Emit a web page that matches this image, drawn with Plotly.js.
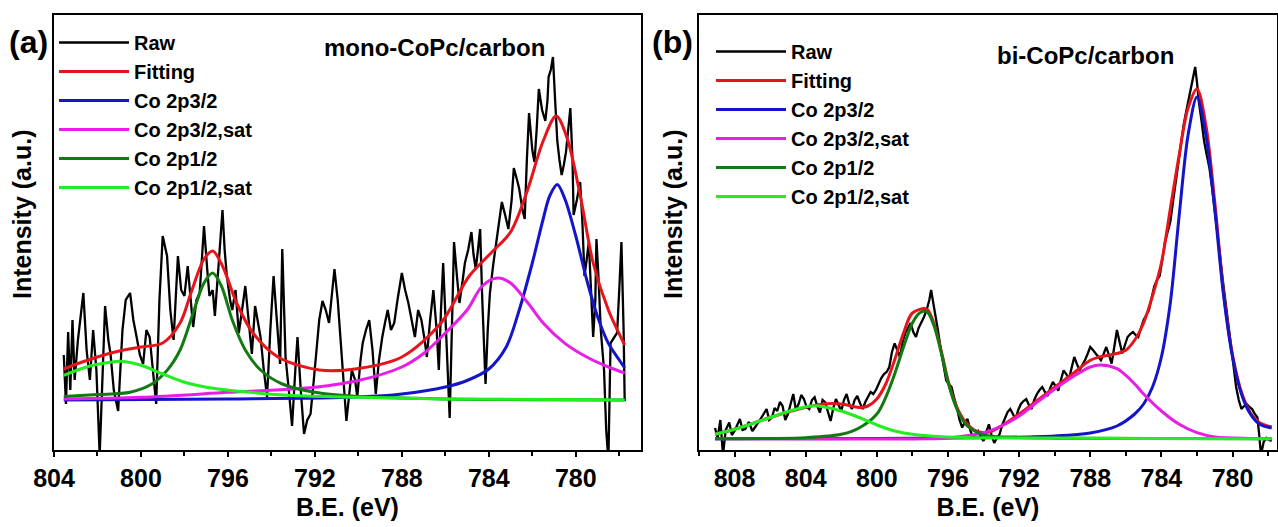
<!DOCTYPE html>
<html>
<head>
<meta charset="utf-8">
<script src="https://cdn.plot.ly/plotly-3.0.1.min.js"></script>
<style>
html,body{margin:0;padding:0;background:#fff;}
#chart{width:1278px;height:527px;}
</style>
</head>
<body>
<div id="chart"></div>
<script>
// ---------- Panel (a): mono-CoPc/carbon ----------
const aRawE = [803.55,803.45,803.35,803.25,803.15,803.05,802.9,802.75,802.65,802.5,802.35,802.2,802.05,801.9,801.75,801.65,801.5,801.4,801.25,801.05,800.85,800.7,800.5,800.35,800.2,800.05,799.9,799.75,799.6,799.45,799.3,799.15,799.0,798.8,798.65,798.5,798.3,798.15,798.0,797.85,797.7,797.6,797.45,797.3,797.2,797.1,796.95,796.85,796.7,796.6,796.4,796.25,796.15,796.05,795.9,795.8,795.65,795.5,795.35,795.2,795.05,794.9,794.75,794.6,794.5,794.35,794.2,794.05,793.9,793.75,793.6,793.5,793.35,793.2,793.05,792.9,792.8,792.65,792.5,792.35,792.2,792.05,791.9,791.8,791.65,791.5,791.35,791.2,791.1,790.95,790.8,790.65,790.55,790.4,790.3,790.15,790.05,789.9,789.8,789.65,789.5,789.35,789.2,789.05,788.9,788.75,788.65,788.5,788.35,788.2,788.0,787.85,787.7,787.55,787.4,787.25,787.1,786.95,786.85,786.7,786.55,786.4,786.3,786.2,786.1,785.95,785.8,785.7,785.6,785.45,785.35,785.2,785.1,784.95,784.8,784.7,784.6,784.5,784.4,784.3,784.15,784.05,783.95,783.8,783.7,783.55,783.4,783.25,783.1,782.95,782.85,782.7,782.6,782.45,782.35,782.25,782.15,782.0,781.9,781.8,781.7,781.55,781.4,781.3,781.25,781.15,781.05,780.95,780.85,780.75,780.65,780.55,780.45,780.35,780.25,780.15,780.1,779.95,779.8,779.7,779.6,779.5,779.4,779.3,779.2,779.1,779.05,778.95,778.85,778.7,778.6,778.5,778.45,778.4,778.25,778.1,778.0,777.9,777.8,777.75];
const aRawI = [95,46,118,60,130,70,110,140,157,100,70,120,80,-5,90,144,110,96,60,39,120,150,157,130,113,95,86,120,113,80,46,150,214,194,140,110,194,160,154,184,150,123,150,157,190,224,180,154,160,134,194,240,200,174,150,140,160,117,140,164,130,96,144,125,113,80,53,120,174,130,86,201,93,60,24,80,113,60,16,30,36,70,107,130,149,140,127,160,181,150,107,60,29,60,80,70,53,90,107,120,130,100,56,90,113,130,140,120,127,150,177,160,147,130,113,140,130,110,93,130,160,120,80,140,187,110,32,120,208,170,147,170,187,200,218,195,181,200,221,150,66,120,157,185,201,225,248,235,221,250,282,270,261,240,231,290,337,300,288,320,361,340,329,350,373,380,393,350,309,290,275,285,298,320,342,290,235,250,268,230,174,190,208,160,113,150,211,170,120,80,20,-10,40,107,112,117,160,208,120,49];

const aFitE = [803.55,802.7,801.2,800,799,798.2,797.7,797.1,796.7,796.25,795.6,794.85,793.7,791.8,790,788,786.2,784.9,783.9,783,782.25,781.5,780.9,780.4,779.8,779.2,778.5,777.75];
const aFitI = [81,88,98,103,107,127,157,191,199,184,147,117,93,80,81.5,93,127,174,197,218,258,309,334,312,255,187,140,105];

const aP32E = [803.55,796,790,788,786,785,784,783.2,782.6,782,781.5,781.2,780.85,780.5,780,779.5,779,778.5,778,777.75];
const aP32I = [50,51,53,56,63,69.5,81,103,140,187,231,254,265.5,251,214,170.5,133.5,106.6,90,82];

const aP32sE = [803.55,800,796,792,790,788,787,786,785,784.3,783.6,783,782.2,781.5,780.5,779.5,778.5,777.75];
const aP32sI = [51,52.7,57.7,62.8,69.5,83,96.5,117,140,164,172,167,147,127,106.6,93,83,77];

const aP12E = [803.55,802,800.5,799.5,798.8,798.2,797.6,797.1,796.7,796.3,795.8,795.2,794.5,793.5,792,790,786,777.75];
const aP12I = [53.4,55.4,57.7,66,79.6,100,137,167,177,164,130,100,80,66,57.7,53.4,51,50];

const aP12sE = [803.55,802.5,801.5,800.9,800,799,798,797,795,793,790,786,777.75];
const aP12sI = [74.6,83,87.4,88.7,84.7,76,67.8,62.8,57.7,54.4,52.7,51,50];

// ---------- Panel (b): bi-CoPc/carbon ----------
const bRawE = [809.1,808.95,808.8,808.65,808.5,808.3,808.15,808.0,807.85,807.7,807.55,807.4,807.2,807.0,806.8,806.6,806.4,806.2,806.05,805.9,805.75,805.6,805.45,805.3,805.15,805.0,804.85,804.7,804.55,804.4,804.25,804.1,803.95,803.8,803.65,803.5,803.35,803.2,803.05,802.9,802.75,802.6,802.45,802.3,802.15,802.0,801.85,801.7,801.55,801.4,801.25,801.1,800.95,800.8,800.65,800.5,800.35,800.2,800.05,799.9,799.75,799.6,799.45,799.3,799.15,799.0,798.85,798.7,798.55,798.4,798.25,798.1,797.95,797.8,797.65,797.5,797.35,797.2,797.05,796.95,796.85,796.7,796.55,796.4,796.25,796.1,795.95,795.8,795.65,795.5,795.35,795.2,795.05,794.9,794.75,794.6,794.45,794.3,794.15,794.0,793.85,793.7,793.55,793.4,793.25,793.1,792.95,792.8,792.65,792.5,792.35,792.2,792.05,791.9,791.75,791.6,791.45,791.3,791.15,791.0,790.85,790.7,790.55,790.4,790.25,790.1,789.95,789.8,789.65,789.5,789.35,789.2,789.05,788.9,788.75,788.6,788.45,788.3,788.15,788.0,787.85,787.7,787.55,787.4,787.25,787.1,786.95,786.8,786.65,786.5,786.35,786.2,786.05,785.9,785.75,785.6,785.45,785.3,785.15,785.0,784.85,784.7,784.55,784.4,784.25,784.1,783.95,783.8,783.65,783.5,783.35,783.2,783.05,782.9,782.75,782.6,782.45,782.3,782.2,782.1,782.0,781.9,781.75,781.6,781.45,781.3,781.15,781.0,780.85,780.7,780.55,780.4,780.25,780.1,779.95,779.8,779.65,779.5,779.35,779.2,779.05,778.9,778.75,778.6,778.5,778.4,778.25,778.1,777.95,777.8];
const bRawI = [22,12,30,-5,20,27.5,15,19,25,31,20,21,28,19,24,29,35,41,30,32.5,42,39,48,44,30,36,45,56,40,46,55,51,43,41,50,52.7,44,37.5,50,47.6,38,29,42,51,45,39,50,56,46,41,50,54,47,41,48,52.7,58,56,60,66,72,76,78,83,98,106.6,100,93,108,117,122,127,118,113,122,127,133,140,150,160,150,137,118,100,85,69.5,66,63,52,42.6,30,22.4,28,31,20,12.3,16,19,13,9,18,25.7,15,7,12,15.7,25,32.5,38,41,36,31,40,46,49,51,45,41,50,56,60,63,58,54,62,68,64,59.4,70,79.6,76,71,82,93,86,79.6,85,89.7,96,103,100,96.5,92,89.7,96,103,95,86.4,103,120,108,96.5,105,113,116,118,115,113,122,130,135,140,152,164,170,174,190,207.6,218,228,248,268,290,309,325,339,352,366,375,383,368,349,330,309,295,282,262,241,218,194,170,147,125,106.6,85,63,50,41,44,46,43,41,36,32.5,15,-5,8,12,10,9];

const bFitE = [809.1,808,806,804,803,802,801,800.5,800,799.5,799,798.5,798,797.2,796.8,796.3,796,795.5,795,794.5,794,793.5,793,792,791,790,789,788,787.5,787,786.5,786,785.5,785,784.5,784,783.5,783,782.5,782,781.5,781,780.5,780,779.5,779,778.5,777.8];
const bFitI = [15.7,20.7,32.5,42.6,46,46,42.6,44,51,66,90,117,137,141,127,93,69.5,42.6,27.5,19.7,17.3,19,24,36,49.3,62.8,76,89.7,93,94.8,96.5,99.8,110,127,154,187,241,295,342,361,325,248,157,95,58,37.5,27.5,23];

const bP32E = [809.1,800,794,790,788,786.5,785.5,785,784.5,784,783.5,783,782.5,782,781.5,781,780.5,780,779.5,779,778.5,777.8];
const bP32I = [11.3,11.5,12.3,14,17,24,36,46,63,93,147,234.5,315,353,315,241,154,93,56,36,26,22];

const bP32sE = [809.1,797,796,794,793,792,791,790,789,788,787.4,786.5,786,785.5,785,784,783,782,781,779,777.8];
const bP32sI = [11.3,11.3,12,17.3,24,34,47.6,61,73,83,85,81.3,74.6,66,56,39,25.7,17.3,13,11.5,11.3];

const bP12E = [809.1,806,804,802,801,800,799.5,799,798.5,798,797.6,797.2,796.8,796.3,796,795.5,795,794.5,794,793,790,777.8];
const bP12I = [11.3,11.5,12.3,15.7,22,36,52.7,76,103,127,137,138.6,125,91.4,68,41,25.7,19,15,13,11.8,11.3];

const bP12sE = [809.1,808,807,806,805,804,803.5,803,802,801,800,799,798,797,795,790,785,777.8];
const bP12sI = [15.7,20.7,26.4,32.5,38.5,43.3,44.3,43.3,39,32.5,25,19,15.7,14,12.5,12,11.6,11.3];

const seriesNames = ['Raw','Fitting','Co 2p3/2','Co 2p3/2,sat','Co 2p1/2','Co 2p1/2,sat'];
const seriesColors = ['#000000','#e8141b','#1414c8','#e61ee6','#127a12','#22ee22'];
const panelTitles = ['mono-CoPc/carbon','bi-CoPc/carbon'];
const panelLabels = ['(a)','(b)'];
const xTitle = 'B.E. (eV)';
const yTitle = 'Intensity (a.u.)';

const FONT = "'Liberation Sans Narrow', 'Arial Narrow', 'Liberation Sans', Arial, sans-serif";

const panels = [
  {xa:'x', ya:'y', leg:'legend', data:[[aRawE,aRawI],[aFitE,aFitI],[aP32E,aP32I],[aP32sE,aP32sI],[aP12E,aP12I],[aP12sE,aP12sI]]},
  {xa:'x2', ya:'y2', leg:'legend2', data:[[bRawE,bRawI],[bFitE,bFitI],[bP32E,bP32I],[bP32sE,bP32sI],[bP12E,bP12I],[bP12sE,bP12sI]]}
];

const traces = [];
panels.forEach(p => {
  p.data.forEach((d, i) => {
    traces.push({
      type:'scatter', mode:'lines',
      x:d[0], y:d[1],
      xaxis:p.xa, yaxis:p.ya, legend:p.leg,
      name:seriesNames[i],
      line:{color:seriesColors[i], width: i===0 ? 2.3 : 3, shape: i===0 ? 'linear' : 'spline', smoothing: 0.9},
      hoverinfo:'skip'
    });
  });
});

const W = 1278, H = 527;
const px = v => v / W;
const py = v => 1 - v / H;

function xaxis(dom, range) {
  return {
    domain: dom, range: range, anchor: dom[0] < 0.5 ? 'y' : 'y2',
    showline:true, linewidth:2, linecolor:'#000', mirror:true,
    showgrid:false, zeroline:false,
    ticks:'outside', ticklen:5, tickwidth:2, tickcolor:'#000',
    tick0:780, dtick:4,
    minor:{dtick:2, ticks:'outside', ticklen:4, tickwidth:2, tickcolor:'#000'},
    tickfont:{family:FONT, size:25, weight:'bold', color:'#000'},
    title:{text:xTitle, font:{family:FONT, size:25, weight:'bold', color:'#000'}, standoff:7}
  };
}
function yaxis(anchor) {
  return {
    domain:[py(450), py(15)], range:[0,435], anchor: anchor,
    showline:true, linewidth:2, linecolor:'#000', mirror:true,
    showgrid:false, zeroline:false, ticks:'', showticklabels:false
  };
}

const legendBase = {
  font:{family:FONT, size:20, weight:'bold', color:'#000'},
  bgcolor:'rgba(0,0,0,0)', borderwidth:0,
  xanchor:'left', yanchor:'top', itemwidth:70, tracegroupgap:0,
  itemclick:false, itemdoubleclick:false
};

const layout = {
  width:W, height:H,
  margin:{l:0, r:0, t:0, b:0},
  paper_bgcolor:'#fff', plot_bgcolor:'#fff',
  showlegend:true,
  xaxis: xaxis([px(54), px(641)], [804, 777]),
  yaxis: yaxis('x'),
  xaxis2: xaxis([px(699), px(1277)], [810, 777.5]),
  yaxis2: yaxis('x2'),
  legend: Object.assign({}, legendBase, {x:px(54), y:py(23)}),
  legend2: Object.assign({}, legendBase, {x:px(711), y:py(32)}),
  annotations: [
    {text:panelTitles[0], xref:'paper', yref:'paper', x:px(434), y:py(47), xanchor:'center', yanchor:'middle', showarrow:false, font:{family:FONT, size:24, weight:'bold', color:'#000'}},
    {text:panelTitles[1], xref:'paper', yref:'paper', x:px(1085), y:py(56), xanchor:'center', yanchor:'middle', showarrow:false, font:{family:FONT, size:24, weight:'bold', color:'#000'}},
    {text:panelLabels[0], xref:'paper', yref:'paper', x:px(28), y:py(42), xanchor:'center', yanchor:'middle', showarrow:false, font:{family:FONT, size:32, weight:'bold', color:'#000'}},
    {text:panelLabels[1], xref:'paper', yref:'paper', x:px(672), y:py(42), xanchor:'center', yanchor:'middle', showarrow:false, font:{family:FONT, size:32, weight:'bold', color:'#000'}},
    {text:yTitle, xref:'paper', yref:'paper', x:px(22), y:py(215), xanchor:'center', yanchor:'middle', textangle:-90, showarrow:false, font:{family:FONT, size:25, weight:'bold', color:'#000'}},
    {text:yTitle, xref:'paper', yref:'paper', x:px(673), y:py(215), xanchor:'center', yanchor:'middle', textangle:-90, showarrow:false, font:{family:FONT, size:25, weight:'bold', color:'#000'}}
  ]
};

Plotly.newPlot('chart', traces, layout, {staticPlot:true, displayModeBar:false});
</script>
</body>
</html>
